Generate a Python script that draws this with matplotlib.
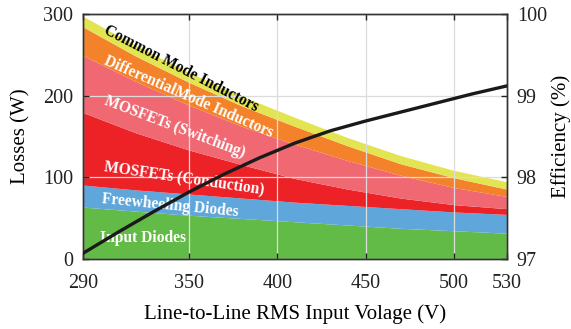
import matplotlib
matplotlib.use('Agg')
import matplotlib.pyplot as plt
import numpy as np

plt.rcParams.update({'font.family': 'Liberation Serif', 'mathtext.fontset': 'stix'})

# input line-to-line RMS voltage (V)
vin = [290, 320, 350, 380, 410, 440, 470, 500, 530]

# loss breakdown (W), bottom to top of the stack
input_diodes = [63, 58, 53, 49, 45, 41, 37, 34, 31]
freewheel_diodes = [27, 26, 26, 25, 24, 24, 24, 23, 23]
mosfet_cond = [89, 70, 54, 41, 29, 20, 13, 9, 7]
mosfet_sw = [70, 63, 55, 47, 42, 35, 28, 21, 15]
dm_inductors = [35, 31, 28, 25, 22, 18, 14, 12, 9]
cm_inductors = [13, 13, 12, 12, 11, 10, 10, 9, 9]

# converter efficiency (%)
vin_eff = [290, 310, 330, 350, 370, 390, 410, 430, 450, 470, 490, 510, 530]
efficiency = [97.07, 97.33, 97.58, 97.82, 98.04, 98.24, 98.42, 98.57, 98.69,
              98.80, 98.91, 99.02, 99.12]

colors = ['#63bb47', '#5fa6da', '#ec2227', '#f06872', '#f4822a', '#e2e452']

fig = plt.figure(figsize=(5.71, 3.29), dpi=100)
ax = fig.add_axes([0.1454, 0.2128, 0.7426, 0.7446])

ax.stackplot(vin, input_diodes, freewheel_diodes, mosfet_cond, mosfet_sw,
             dm_inductors, cm_inductors, colors=colors, lw=0, zorder=1)

ax.set_xlim(290, 530)
ax.set_ylim(0, 300)
ax.set_xticks([290, 350, 400, 450, 500, 530])
ax.set_yticks([0, 100, 200, 300])
ax.grid(True, color='#dcdcdc', lw=0.9, zorder=2)
ax.set_axisbelow(False)
ax.tick_params(direction='in', labelsize=14.5, length=4, width=1, top=True, pad=7, colors='#222222')
ax.tick_params(axis='x', pad=11)
for s in ax.spines.values():
    s.set_color('#333333')
    s.set_linewidth(1.0)
    s.set_zorder(5)
ax.set_xlabel('Line-to-Line RMS Input Volage (V)', fontsize=15, labelpad=8)
ax.set_ylabel('Losses (W)', fontsize=15, labelpad=9)

# labels drawn along each band: (text, x, y, angle, colour)
txt = [('Input Diodes', 324.2, 26.3, 0, 'white'),
       ('Freewheeling Diodes', 339.2, 65.5, -5.5, 'white'),
       ('MOSFETs (Conduction)', 347.2, 98.6, -8.3, 'white'),
       ('MOSFETs (Switching)', 341.8, 161.6, -20.8, 'white'),
       ('DifferentialMode Inductors', 349.7, 199, -23.6, 'white'),
       ('Common Mode Inductors', 345.7, 232.6, -27.3, 'black')]
for t, x, y, a, c in txt:
    ax.text(x, y, t, rotation=a, rotation_mode='anchor', ha='center', va='center',
            fontsize=11.2, fontweight='bold', color=c, zorder=6)

ax2 = ax.twinx()
ax2.plot(vin_eff, efficiency, color='#1a1a1a', lw=2.4, zorder=7)
ax2.set_ylim(97, 100)
ax2.set_yticks([97, 98, 99, 100])
ax2.tick_params(direction='in', labelsize=14.5, length=4, width=1, pad=7, colors='#222222')
for s in ax2.spines.values():
    s.set_color('#333333')
    s.set_linewidth(1.0)
ax2.set_ylabel('Efficiency (%)', fontsize=15, labelpad=3)

fig.savefig('out.png', dpi=100)
